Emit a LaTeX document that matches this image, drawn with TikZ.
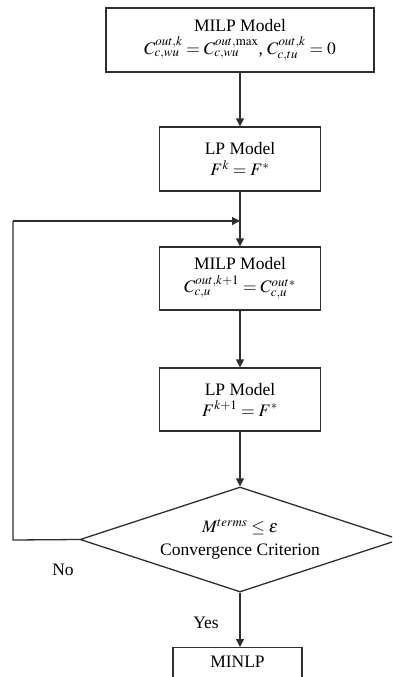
\documentclass[tikz,border=0pt]{standalone}
\usepackage{mathptmx}
\usepackage{fontspec}
\setmainfont{Liberation Serif}
\usetikzlibrary{shapes.geometric,arrows.meta}
\definecolor{linec}{HTML}{2E2E2E}
\tikzset{
  boxnode/.style={draw=linec, line width=1.3pt, rectangle, align=center, inner sep=0pt, font=\fontsize{17.5}{20}\selectfont},
  lbl/.style={font=\fontsize{17.5}{20}\selectfont, inner sep=0pt},
  conn/.style={draw=linec, line width=1.3pt, -{Triangle[length=8pt,width=8pt]}},
  plain/.style={draw=linec, line width=1.3pt}
}
\begin{document}
\begin{tikzpicture}[x=1pt,y=-1pt]
\useasboundingbox (0,0) rectangle (392,677);
\clip (0,0) rectangle (392,677);
\node[boxnode, minimum width=268pt, minimum height=64pt] (b1) at (240,40)
  {MILP Model\\[3pt] $C_{c,wu}^{out,k} = C_{c,wu}^{out,\max}$, $C_{c,tu}^{out,k} = 0$};
\node[boxnode, minimum width=161pt, minimum height=64pt] (b2) at (240,159)
  {LP Model\\[1pt] $F^{k} = F^{*}$};
\node[boxnode, minimum width=161pt, minimum height=63pt] (b3) at (240,278.5)
  {MILP Model\\[3pt] $C_{c,u}^{out,k+1} = C_{c,u}^{out*}$};
\node[boxnode, minimum width=161pt, minimum height=63pt] (b4) at (240,399.5)
  {LP Model\\[1pt] $F^{k+1} = F^{*}$};
\node[diamond, draw=linec, line width=1.3pt, aspect=3, inner sep=0pt,
      minimum width=320pt, minimum height=105pt, align=center,
      font=\fontsize{17.5}{20}\selectfont] (d) at (240,539.5)
  {$M^{terms} \le \varepsilon$\\[3pt] Convergence Criterion};
\node[boxnode, anchor=north, minimum width=129pt, inner ysep=8pt,
      text height=12pt, text depth=40pt] (m) at (237.5,647) {MINLP};
\node[lbl] (no) at (63,570) {No};
\node[lbl] (yes) at (206,623) {Yes};
\coordinate (fbl) at (13,540);
\coordinate (fbt) at (13,221);
\coordinate (fbe) at (240,221);
\draw[conn] (b1.south) -- (b2.north);
\draw[conn] (b2.south) -- (b3.north);
\draw[conn] (b3.south) -- (b4.north);
\draw[conn] (b4.south) -- (d.north);
\draw[conn] (d.south) -- (d.south |- m.north);
\draw[plain] (d.west) -- (fbl) -- (fbt);
\draw[conn] (fbt) -- (fbe);
\end{tikzpicture}
\end{document}
